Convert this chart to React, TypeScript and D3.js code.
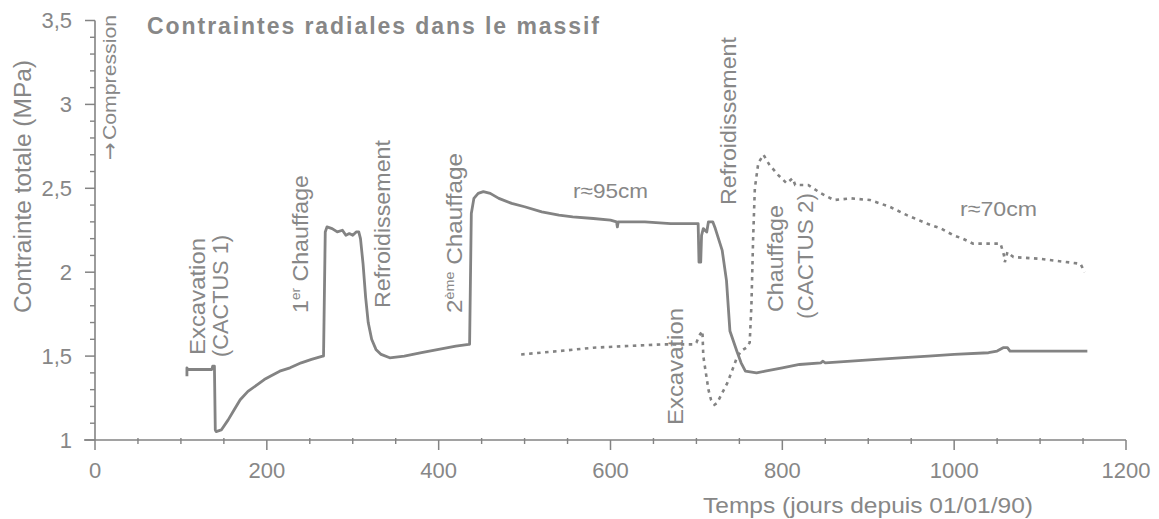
import React from "react";
import * as d3 from "d3";

// r≈95cm (solid) : [day, MPa]
const solidDays = [107,107,108,136,137,139,140,141,147,155,162,169,178,189,197,204,215,227,240,252,265,266,268,270,276,282,288,292,296,300,304,307,309,312,315,318,322,327,333,343,360,380,400,420,435,436,438,441,446,452,460,470,485,500,520,540,556,580,600,607,608,609,640,670,696,702,703,705,706,708,712,714,719,722,730,735,739,747,752,757,770,780,800,820,845,847,850,880,910,937,970,1000,1040,1050,1057,1062,1065,1100,1155];
const solidVals = [1.38,1.43,1.42,1.42,1.44,1.44,1.06,1.05,1.06,1.12,1.18,1.24,1.29,1.33,1.36,1.38,1.41,1.43,1.46,1.48,1.50,1.50,2.24,2.27,2.26,2.24,2.25,2.22,2.23,2.22,2.24,2.24,2.20,2.05,1.85,1.70,1.60,1.54,1.51,1.49,1.50,1.52,1.54,1.56,1.57,1.57,2.35,2.44,2.47,2.48,2.47,2.44,2.41,2.39,2.36,2.34,2.33,2.32,2.31,2.30,2.27,2.30,2.30,2.29,2.29,2.29,2.06,2.06,2.22,2.26,2.24,2.30,2.30,2.26,2.13,1.95,1.65,1.53,1.46,1.41,1.40,1.41,1.43,1.45,1.46,1.47,1.46,1.47,1.48,1.49,1.50,1.51,1.52,1.53,1.55,1.55,1.53,1.53,1.53];

// r≈70cm (dotted)
const dotDays = [496,540,580,620,660,696,700,703,707,708,711,714,717,721,724,729,736,742,747,752,758,762,764,766,768,772,778,785,795,805,812,815,830,845,860,880,902,925,945,968,985,999,1010,1022,1040,1054,1058,1059,1062,1069,1100,1147,1150,1152];
const dotVals = [1.51,1.53,1.55,1.56,1.57,1.57,1.58,1.62,1.65,1.50,1.40,1.30,1.24,1.21,1.22,1.27,1.34,1.42,1.49,1.53,1.55,1.58,1.80,2.20,2.50,2.65,2.70,2.64,2.58,2.53,2.56,2.52,2.52,2.47,2.43,2.44,2.43,2.39,2.34,2.29,2.26,2.22,2.20,2.17,2.17,2.17,2.10,2.06,2.12,2.09,2.08,2.05,2.02,2.00];

const xMajorTicks = [0, 200, 400, 600, 800, 1000, 1200];
const yMajorTicks = [1, 1.5, 2, 2.5, 3, 3.5];
const yTickLabels = ["1", "1,5", "2", "2,5", "3", "3,5"];

const TXT = "#878787";
const LINE = "#838383";
const FONT = "'Liberation Sans', Arial, Helvetica, sans-serif";

export default function App() {
  const x = d3.scaleLinear().domain([0, 1200]).range([95, 1126]);
  const y = d3.scaleLinear().domain([1, 3.5]).range([440, 20.5]);
  const line = d3.line<[number, number]>().x(d => x(d[0])).y(d => y(d[1]));
  const solid: [number, number][] = solidDays.map((d, i) => [d, solidVals[i]]);
  const dotted: [number, number][] = dotDays.map((d, i) => [d, dotVals[i]]);
  const xMinor = d3.range(0, 1201, 50).filter(v => v % 200 !== 0);
  const yMinor = d3.range(10, 36).map(v => v / 10).filter(v => Math.round(v * 10) % 5 !== 0);

  const vlabel = (key: string, bx: number, by: number, len: number, content: React.ReactNode, size = 22) => (
    <text key={key} transform={`translate(${bx},${by}) rotate(-90)`} fontSize={size} fill={TXT}
      textLength={len} lengthAdjust="spacingAndGlyphs">{content}</text>
  );

  return (
    <svg width={1159} height={519} style={{ position: "absolute", left: 0, top: 0, background: "#fff" }} fontFamily={FONT}>
      {/* axes */}
      <line x1={x(0)} x2={x(0)} y1={y(3.5)} y2={y(1)} stroke={LINE} strokeWidth={1.6} />
      <line x1={84} x2={x(1200)} y1={y(1)} y2={y(1)} stroke={LINE} strokeWidth={1.6} />
      {yMajorTicks.map(v => (
        <line key={"ym" + v} x1={85} x2={x(0)} y1={y(v)} y2={y(v)} stroke={LINE} strokeWidth={1.5} />
      ))}
      {yMinor.map(v => (
        <line key={"yn" + v} x1={90} x2={x(0)} y1={y(v)} y2={y(v)} stroke={LINE} strokeWidth={1.4} />
      ))}
      {xMajorTicks.map(v => (
        <line key={"xm" + v} x1={x(v)} x2={x(v)} y1={y(1)} y2={y(1) + 10} stroke={LINE} strokeWidth={1.5} />
      ))}
      {xMinor.map(v => (
        <line key={"xn" + v} x1={x(v)} x2={x(v)} y1={y(1) - 2} y2={y(1) + 4} stroke={LINE} strokeWidth={1.4} />
      ))}
      {yMajorTicks.map((v, i) => (
        <text key={"yl" + v} x={72} y={y(v)} dy="0.36em" textAnchor="end" fontSize={22} fill={TXT}>{yTickLabels[i]}</text>
      ))}
      {xMajorTicks.map(v => (
        <text key={"xl" + v} x={x(v)} y={478} textAnchor="middle" fontSize={22} fill={TXT}>{v}</text>
      ))}

      {/* axis titles */}
      {vlabel("ytitle", 31, 313, 253, "Contrainte totale (MPa)", 23)}
      {vlabel("comp", 116, 140, 125, "Compression", 19)}
      <text transform={`translate(117,160) rotate(-90)`} fontSize={21} fill={TXT} fontFamily="'DejaVu Sans', sans-serif">→</text>
      <text x={703} y={513} fontSize={22} fill={TXT} textLength={330} lengthAdjust="spacingAndGlyphs">Temps (jours depuis 01/01/90)</text>
      <text x={147} y={34} fontSize={23} fontWeight="bold" fill={TXT} textLength={452} lengthAdjust="spacing">Contraintes radiales dans le massif</text>

      {/* data */}
      <path d={line(solid) || ""} fill="none" stroke={LINE} strokeWidth={2.8} strokeLinejoin="round" />
      <path d={line(dotted) || ""} fill="none" stroke={LINE} strokeWidth={2.6} strokeDasharray="3.5,4.5" />

      {/* annotations */}
      {vlabel("exc1", 205, 355, 117, "Excavation")}
      {vlabel("cac1", 228, 357, 122, "(CACTUS 1)")}
      {vlabel("ch1", 308, 313, 138, <>1<tspan dy={-8} fontSize={13}>er</tspan><tspan dy={8}> Chauffage</tspan></>)}
      {vlabel("ref1", 390, 308, 168, "Refroidissement")}
      {vlabel("ch2", 462, 313, 160, <>2<tspan dy={-8} fontSize={13}>ème</tspan><tspan dy={8}> Chauffage</tspan></>)}
      {vlabel("ref2", 736, 205, 168, "Refroidissement")}
      {vlabel("exc2", 683, 425, 117, "Excavation")}
      {vlabel("ch3", 783, 312, 107, "Chauffage")}
      {vlabel("cac2", 813, 319, 126, "(CACTUS 2)")}
      <text x={573} y={198} fontSize={21} fill={TXT} textLength={75} lengthAdjust="spacingAndGlyphs">r≈95cm</text>
      <text x={960} y={216} fontSize={21} fill={TXT} textLength={77} lengthAdjust="spacingAndGlyphs">r≈70cm</text>
    </svg>
  );
}
